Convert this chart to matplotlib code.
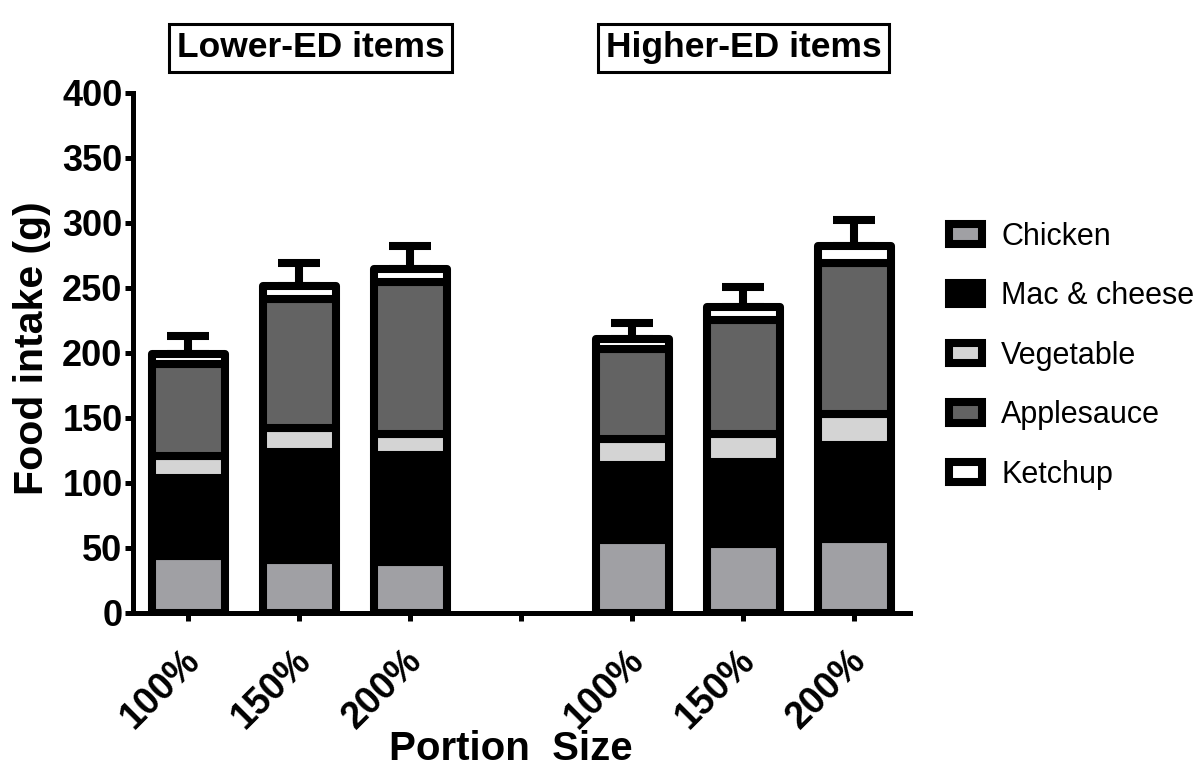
import numpy as np
import matplotlib.pyplot as plt
from matplotlib.transforms import blended_transform_factory, ScaledTranslation

plt.rcParams['font.family'] = ['Liberation Sans', 'DejaVu Sans']

# x categories (blank slot separates the two groups)
tick_labels = ['100%', '150%', '200%', '', '100%', '150%', '200%']
group_names = ['Lower-ED items', 'Higher-ED items']

# intake per food (g), stacked bottom to top
chicken = [43.5, 40.5, 39.5, 56.5, 53.0, 57.0]
mac_cheese = [60.5, 83.0, 82.0, 57.0, 63.0, 72.0]
vegetable = [17.0, 19.0, 16.5, 20.0, 21.5, 24.0]
applesauce = [70.5, 99.0, 116.5, 69.5, 88.0, 116.5]
ketchup = [7.5, 10.0, 10.0, 7.5, 9.5, 13.0]
sem_total = [14.0, 18.0, 17.5, 12.5, 15.5, 20.0]

series = [
    ('Chicken', chicken, '#a0a0a4'),
    ('Mac & cheese', mac_cheese, '#000000'),
    ('Vegetable', vegetable, '#d4d4d4'),
    ('Applesauce', applesauce, '#636363'),
    ('Ketchup', ketchup, '#ffffff'),
]

fig = plt.figure(figsize=(12.01, 7.72), dpi=100)
ax = fig.add_axes([0.1107, 0.206, 0.647, 0.6736])

pos = np.array([i for i, lab in enumerate(tick_labels) if lab])
lw = 5.8
bottom = np.zeros(len(pos))
for name, vals, col in series:
    ax.bar(pos, vals, 0.65, bottom=bottom, color=col, edgecolor='black',
           linewidth=lw, label=name, zorder=3, joinstyle='round')
    bottom = bottom + np.array(vals)

# only the upper half of the error bar is shown
ax.errorbar(pos, bottom, yerr=[np.zeros(len(pos)), sem_total], fmt='none',
            ecolor='black', elinewidth=lw, capsize=14.8, capthick=lw, zorder=2)

ax.set_xlim(-0.5, 6.5)
ax.set_ylim(0, 400)
ax.set_yticks(np.arange(0, 401, 50))
ax.set_xticks(np.arange(len(tick_labels)))
ax.set_xticklabels(tick_labels)

for s in ['top', 'right']:
    ax.spines[s].set_visible(False)
for s in ['left', 'bottom']:
    ax.spines[s].set_linewidth(3.6)
ax.tick_params(axis='both', direction='out', length=5.5, width=3.6)
ax.tick_params(axis='x', pad=25, labelsize=27)
ax.tick_params(axis='y', pad=2, labelsize=26)
for lab in ax.get_yticklabels():
    lab.set_fontweight('bold')
plt.setp(ax.get_xticklabels(), rotation=45, ha='right', va='center',
         rotation_mode='anchor', fontweight='bold')
# nudge the rotated labels a little to the right
shift = ScaledTranslation(4 / 72, 0, fig.dpi_scale_trans)
for lab in ax.get_xticklabels():
    lab.set_transform(lab.get_transform() + shift)

ax.set_xlabel('Portion  Size', fontsize=29, fontweight='bold')
ax.xaxis.set_label_coords(0.486, -0.225)
ax.set_ylabel('Food intake (g)', fontsize=29.5, fontweight='bold')
ax.yaxis.set_label_coords(-0.105, 0.51)

# group headers in boxes
trans = blended_transform_factory(ax.transData, fig.transFigure)
for gx, gname in zip([1.1, 5.0], group_names):
    ax.text(gx, 0.938, gname, transform=trans, ha='center', va='center',
            fontsize=25.5, fontweight='bold',
            bbox=dict(boxstyle='square,pad=0.22', fc='white', ec='black', lw=2.2))

fig.legend(loc='center left', bbox_to_anchor=(0.79, 0.539), frameon=False,
           fontsize=22, handlelength=1.1, handleheight=0.65, handletextpad=0.62,
           labelspacing=0.965, borderpad=0, borderaxespad=0)

fig.savefig('out.png', dpi=100)
